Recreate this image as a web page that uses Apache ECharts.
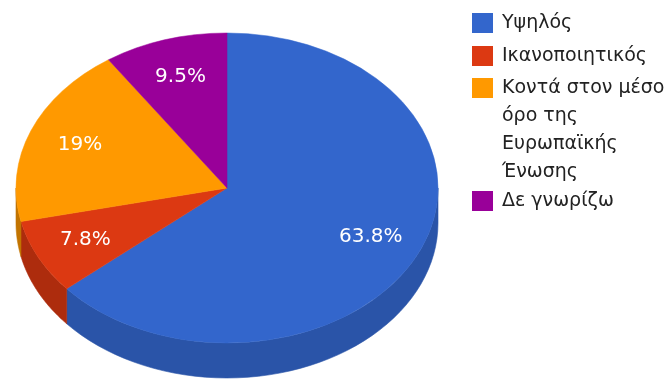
<!DOCTYPE html>
<html>
<head>
<meta charset="utf-8">
<script src="https://cdn.jsdelivr.net/npm/echarts@6/dist/echarts.min.js"></script>
<style>
  html, body { margin: 0; padding: 0; background: #fff; }
  #chart { width: 669px; height: 383px; }
</style>
</head>
<body>
<div id="chart"></div>
<script>
// Survey answers and their shares (%)
const categories = ['Υψηλός', 'Ικανοποιητικός', 'Κοντά στον μέσο όρο της Ευρωπαϊκής Ένωσης', 'Δε γνωρίζω'];
const shares = [63.8, 7.8, 19, 9.5];
const topColors = ['#3366cc', '#dc3912', '#ff9900', '#990099'];
const sideColors = ['#2a54a8', '#ad2c0d', '#c27400', '#740074'];
// How the long legend entry breaks over lines
const legendLines = {
  'Κοντά στον μέσο όρο της Ευρωπαϊκής Ένωσης': ['Κοντά στον μέσο', 'όρο της', 'Ευρωπαϊκής', 'Ένωσης']
};

// Tilted pie geometry (pixels)
const PIE = { cx: 227, cy: 188, rx: 211, ry: 155, depth: 35, labelK: 0.75 };

const total = shares.reduce((a, b) => a + b, 0);
const starts = [];
shares.reduce((acc, v, i) => { starts[i] = acc; return acc + v; }, 0);

function angleOf(v) {
  return -Math.PI / 2 + 2 * Math.PI * v / total;
}

function rimPoint(a, dy) {
  return [PIE.cx + PIE.rx * Math.cos(a), PIE.cy + PIE.ry * Math.sin(a) + dy];
}

function sliceRenderer(i) {
  return function (params, api) {
    const value = api.value(0);
    const a0 = angleOf(starts[i]);
    const a1 = angleOf(starts[i] + value);
    const children = [];

    // visible side wall: the part of the rim that faces the viewer (0..π)
    const s = Math.max(a0, 0), e = Math.min(a1, Math.PI);
    if (e > s) {
      const n = 48, pts = [];
      for (let k = 0; k <= n; k++) pts.push(rimPoint(s + (e - s) * k / n, 0));
      for (let k = n; k >= 0; k--) pts.push(rimPoint(s + (e - s) * k / n, PIE.depth));
      children.push({
        type: 'polygon',
        shape: { points: pts },
        style: { fill: sideColors[i], stroke: sideColors[i], lineWidth: 0.6 }
      });
    }

    // top face: a circular sector squashed vertically
    children.push({
      type: 'sector',
      x: PIE.cx, y: PIE.cy,
      scaleX: 1, scaleY: PIE.ry / PIE.rx,
      shape: { cx: 0, cy: 0, r0: 0, r: PIE.rx, startAngle: a0, endAngle: a1, clockwise: true },
      style: { fill: topColors[i], stroke: topColors[i], lineWidth: 0.6 }
    });

    // percentage label
    const mid = (a0 + a1) / 2;
    children.push({
      type: 'text',
      x: PIE.cx + PIE.labelK * PIE.rx * Math.cos(mid),
      y: PIE.cy + PIE.labelK * PIE.ry * Math.sin(mid),
      style: {
        text: value + '%',
        fill: '#ffffff',
        font: '20px "DejaVu Sans"',
        align: 'center',
        verticalAlign: 'middle'
      }
    });

    return { type: 'group', children: children };
  };
}

const series = categories.map((name, i) => ({
  type: 'custom',
  name: name,
  coordinateSystem: 'none',
  color: topColors[i],
  itemStyle: { color: topColors[i] },
  renderItem: sliceRenderer(i),
  data: [{ name: name, value: shares[i] }],
  silent: true
}));

const legendText = {
  fontFamily: 'DejaVu Sans',
  fontSize: 19,
  color: '#222222',
  padding: [0, 0, 0, 4]
};

function legendItem(i, icon) {
  return { name: categories[i], icon: icon, itemStyle: { color: topColors[i] } };
}

const option = {
  animation: false,
  backgroundColor: '#ffffff',
  legend: [
    {
      orient: 'vertical', left: 472, top: 13, padding: 0,
      itemWidth: 21, itemHeight: 20, itemGap: 13,
      selectedMode: false,
      textStyle: legendText,
      data: [legendItem(0, 'rect'), legendItem(1, 'rect')]
    },
    {
      orient: 'vertical', left: 472, top: 74, padding: 0,
      itemWidth: 21, itemHeight: 112,
      selectedMode: false,
      textStyle: Object.assign({}, legendText, { lineHeight: 28 }),
      formatter: name => (legendLines[name] || [name]).join('\n'),
      data: [legendItem(2, 'path://M0 0L0 0M0 4H21V24H0ZM0 112L0 112')]
    },
    {
      orient: 'vertical', left: 472, top: 191, padding: 0,
      itemWidth: 21, itemHeight: 20,
      selectedMode: false,
      textStyle: legendText,
      data: [legendItem(3, 'rect')]
    }
  ],
  series: series
};

const chart = echarts.init(document.getElementById('chart'), null, { renderer: 'canvas' });
chart.setOption(option);
</script>
</body>
</html>
